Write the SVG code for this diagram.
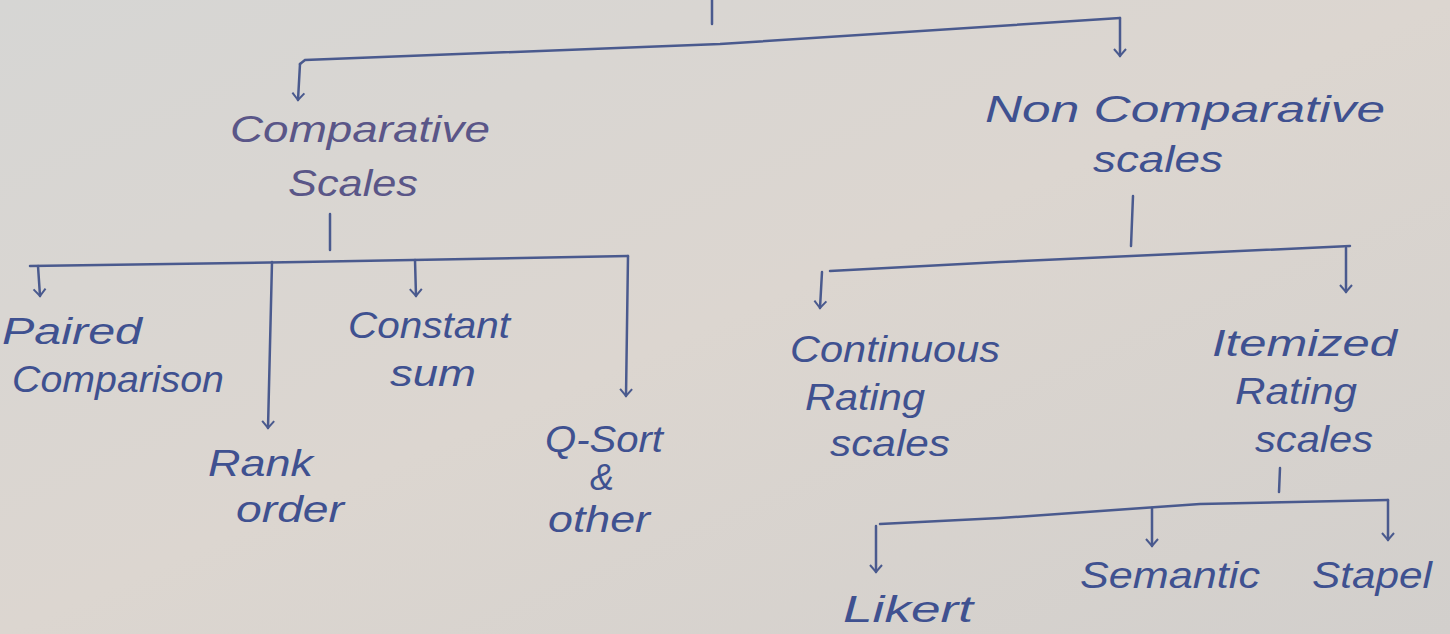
<svg xmlns="http://www.w3.org/2000/svg" width="1450" height="634" viewBox="0 0 1450 634">
<defs>
<linearGradient id="paper" x1="0" y1="0" x2="1" y2="1">
<stop offset="0" stop-color="#d6d6d4"/>
<stop offset="0.5" stop-color="#dcd6d0"/>
<stop offset="1" stop-color="#d2cfcc"/>
</linearGradient>
<marker id="arr" viewBox="-8 -8 16 16" markerWidth="16" markerHeight="16" refX="0" refY="0" orient="auto" markerUnits="userSpaceOnUse">
<path d="M-7,-6 L0,0 L-7,6" fill="none" stroke="#4a5a8e" stroke-width="2"/>
</marker>
<style>
.c{fill:none;stroke:#4a5a8e;stroke-width:2.5;stroke-linecap:round}
.t{font-family:"Liberation Sans",Arial,sans-serif;font-style:italic;fill:#3f5190;font-size:36px}
.p{fill:#5a5688}
</style>
</defs>
<rect width="1450" height="634" fill="url(#paper)"/>
<g id="connectors">
<path class="c" d="M712,0 L712,24"/>
<path class="c" d="M300,64 L305,60 L720,44 L1120,18"/>
<path class="c" d="M300,64 L298,100" marker-end="url(#arr)"/>
<path class="c" d="M1120,18 L1120,56" marker-end="url(#arr)"/>
<path class="c" d="M330,214 L330,250"/>
<path class="c" d="M30,266 L300,262 L628,256"/>
<path class="c" d="M38,266 L40,296" marker-end="url(#arr)"/>
<path class="c" d="M272,262 L268,428" marker-end="url(#arr)"/>
<path class="c" d="M415,260 L416,296" marker-end="url(#arr)"/>
<path class="c" d="M628,256 L626,396" marker-end="url(#arr)"/>
<path class="c" d="M1133,196 L1131,246"/>
<path class="c" d="M830,271 L1000,262 L1350,246"/>
<path class="c" d="M822,272 L820,308" marker-end="url(#arr)"/>
<path class="c" d="M1346,248 L1346,292" marker-end="url(#arr)"/>
<path class="c" d="M1280,468 L1279,492"/>
<path class="c" d="M880,524 L1000,518 L1200,504 L1388,500"/>
<path class="c" d="M876,526 L876,572" marker-end="url(#arr)"/>
<path class="c" d="M1152,508 L1152,546" marker-end="url(#arr)"/>
<path class="c" d="M1388,500 L1388,540" marker-end="url(#arr)"/>
</g>
<g id="n-comparative"><text class="t p" x="230" y="142" textLength="260" lengthAdjust="spacingAndGlyphs">Comparative</text><text class="t p" x="288" y="196" textLength="130" lengthAdjust="spacingAndGlyphs">Scales</text></g>
<g id="n-noncomparative"><text class="t" x="985" y="122" textLength="400" lengthAdjust="spacingAndGlyphs">Non Comparative</text><text class="t" x="1093" y="172" textLength="130" lengthAdjust="spacingAndGlyphs">scales</text></g>
<g id="n-paired"><text class="t" x="2" y="344" textLength="140" lengthAdjust="spacingAndGlyphs">Paired</text><text class="t" x="12" y="392" textLength="212" lengthAdjust="spacingAndGlyphs">Comparison</text></g>
<g id="n-rank"><text class="t" x="208" y="476" textLength="105" lengthAdjust="spacingAndGlyphs">Rank</text><text class="t" x="236" y="522" textLength="108" lengthAdjust="spacingAndGlyphs">order</text></g>
<g id="n-constant"><text class="t" x="348" y="338" textLength="162" lengthAdjust="spacingAndGlyphs">Constant</text><text class="t" x="390" y="386" textLength="86" lengthAdjust="spacingAndGlyphs">sum</text></g>
<g id="n-qsort"><text class="t" x="545" y="452" textLength="118" lengthAdjust="spacingAndGlyphs">Q-Sort</text><text class="t" x="590" y="490">&amp;</text><text class="t" x="548" y="532" textLength="102" lengthAdjust="spacingAndGlyphs">other</text></g>
<g id="n-continuous"><text class="t" x="790" y="362" textLength="210" lengthAdjust="spacingAndGlyphs">Continuous</text><text class="t" x="805" y="410" textLength="120" lengthAdjust="spacingAndGlyphs">Rating</text><text class="t" x="830" y="456" textLength="120" lengthAdjust="spacingAndGlyphs">scales</text></g>
<g id="n-itemized"><text class="t" x="1212" y="356" textLength="185" lengthAdjust="spacingAndGlyphs">Itemized</text><text class="t" x="1235" y="404" textLength="122" lengthAdjust="spacingAndGlyphs">Rating</text><text class="t" x="1255" y="452" textLength="118" lengthAdjust="spacingAndGlyphs">scales</text></g>
<g id="n-likert"><text class="t" x="843" y="622" textLength="130" lengthAdjust="spacingAndGlyphs">Likert</text></g>
<g id="n-semantic"><text class="t" x="1080" y="588" textLength="180" lengthAdjust="spacingAndGlyphs">Semantic</text></g>
<g id="n-stapel"><text class="t" x="1312" y="588" textLength="120" lengthAdjust="spacingAndGlyphs">Stapel</text></g>
</svg>
